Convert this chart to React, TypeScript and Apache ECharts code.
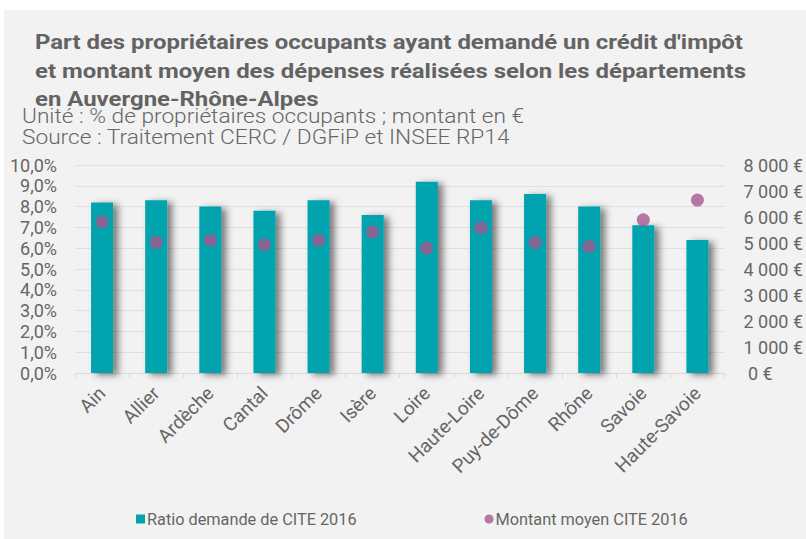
import React, { useEffect, useRef } from "react";
import * as echarts from "echarts";

const categories = ["Ain", "Allier", "Ardèche", "Cantal", "Drôme", "Isère", "Loire", "Haute-Loire", "Puy-de-Dôme", "Rhône", "Savoie", "Haute-Savoie"];
const ratioDemande = [8.2, 8.3, 8.0, 7.8, 8.3, 7.6, 9.2, 8.3, 8.6, 8.0, 7.1, 6.4];
const montantMoyen = [5810, 5020, 5110, 4930, 5110, 5420, 4800, 5580, 5020, 4870, 5890, 6650];
const titleLines = [
  "Part des propriétaires occupants ayant demandé un crédit d'impôt",
  "et montant moyen des dépenses réalisées selon les départements",
  "en Auvergne-Rhône-Alpes",
];
const subtitleLines = ["Unité : % de propriétaires occupants ; montant en €", "Source : Traitement CERC / DGFiP et INSEE RP14"];
const seriesNames = ["Ratio demande de CITE 2016", "Montant moyen CITE 2016"];

const FONT = "Roboto, 'Noto Sans', sans-serif";
const GREY = "#666666";

export default function App() {
  const ref = useRef<HTMLDivElement>(null);
  useEffect(() => {
    if (!ref.current) return;
    const chart = echarts.init(ref.current, null, { renderer: "svg" });
    const titleY = [41.8, 70.3, 98.3];
    const subY = [116.1, 136.8];
    const texts: any[] = [
      ...titleLines.map((t, i) => ({
        type: "text",
        x: 35,
        y: titleY[i],
        scaleX: 1.14,
        z: 10,
        style: {
          text: t,
          fill: "#636363",
          font: `bold 21px ${FONT}`,
          align: "left",
          verticalAlign: "middle",
        },
      })),
      ...subtitleLines.map((t, i) => ({
        type: "text",
        x: 22,
        y: subY[i],
        scaleX: 1.08,
        z: 11,
        style: {
          text: t,
          fill: GREY,
          font: `300 21px ${FONT}`,
          align: "left",
          verticalAlign: "middle",
        },
      })),
    ];
    chart.setOption({
      animation: false,
      backgroundColor: "#ffffff",
      graphic: [
        { type: "rect", left: 4, top: 10, shape: { width: 802, height: 529 }, style: { fill: "#f2f2f2" }, z: -10 },
        ...texts,
      ],
      legend: {
        left: 131,
        top: 506,
        itemWidth: 9,
        itemHeight: 9,
        itemGap: 128,
        textStyle: { fontFamily: FONT, fontSize: 16.3, color: GREY, padding: [0, 0, 0, -3] },
        data: [
          { name: seriesNames[0], icon: "rect" },
          { name: seriesNames[1], icon: "circle" },
        ],
      },
      grid: { left: 75, right: 76, top: 165, bottom: 166, containLabel: false },
      xAxis: {
        type: "category",
        data: categories,
        axisLine: { lineStyle: { color: "#d9d9d9", width: 1 } },
        axisTick: { show: true, length: 5, lineStyle: { color: "#d9d9d9" } },
        axisLabel: { rotate: 45, fontFamily: FONT, fontSize: 19, color: GREY, margin: 17, interval: 0 },
      },
      yAxis: [
        {
          type: "value",
          min: 0,
          max: 10,
          interval: 1,
          axisLine: { show: false },
          axisTick: { show: false },
          splitLine: { lineStyle: { color: "#e0e0e0", width: 1 } },
          axisLabel: {
            fontFamily: FONT,
            fontSize: 18,
            color: GREY,
            margin: 18,
            formatter: (v: number) => v.toFixed(1).replace(".", ",") + "%",
          },
        },
        {
          type: "value",
          min: 0,
          max: 8000,
          interval: 1000,
          position: "right",
          axisLine: { show: false },
          axisTick: { show: false },
          splitLine: { show: false },
          axisLabel: {
            fontFamily: FONT,
            fontSize: 18,
            color: GREY,
            margin: 19,
            align: "left",
            formatter: (v: number) => (v === 0 ? " 0 €" : String(v).replace(/\B(?=(\d{3})+(?!\d))/g, " ") + " €"),
          },
        },
      ],
      series: [
        {
          name: seriesNames[0],
          type: "bar",
          data: ratioDemande,
          barWidth: 22,
          yAxisIndex: 0,
          itemStyle: {
            color: "#00a3ae",
            shadowColor: "rgba(0,0,0,0.5)",
            shadowBlur: 7,
            shadowOffsetX: 5,
            shadowOffsetY: 2,
          },
        },
        {
          name: seriesNames[1],
          type: "scatter",
          data: montantMoyen,
          yAxisIndex: 1,
          symbol: "circle",
          symbolSize: 13,
          itemStyle: { color: "#a5588f" },
          z: 5,
        },
      ],
    });
    return () => chart.dispose();
  }, []);
  return <div ref={ref} style={{ position: "absolute", left: 0, top: 0, width: 806, height: 539 }} />;
}
